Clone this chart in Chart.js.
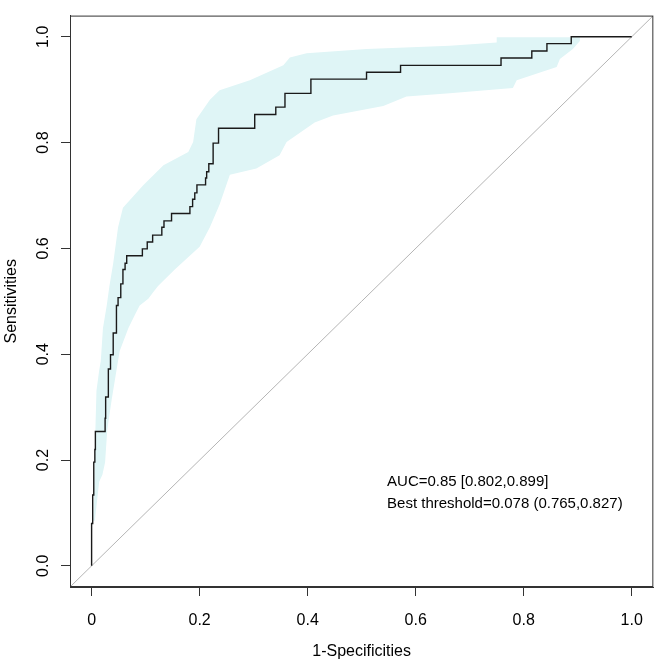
<!DOCTYPE html>
<html>
<head>
<meta charset="utf-8">
<script src="https://cdn.jsdelivr.net/npm/chart.js@4.4.1/dist/chart.umd.min.js"></script>
<style>
  html, body { margin: 0; padding: 0; background: #fff; }
</style>
</head>
<body>
<canvas id="roc" width="658" height="661"></canvas>
<script>
// ROC curve (step points: end of each horizontal run)
const rocFpr  = [0, 0.002, 0.004, 0.006, 0.007, 0.025, 0.026, 0.031, 0.035, 0.04, 0.046, 0.049, 0.054, 0.058, 0.062, 0.065, 0.094, 0.103, 0.113, 0.13, 0.134, 0.148, 0.182, 0.187, 0.191, 0.195, 0.211, 0.213, 0.217, 0.225, 0.235, 0.302, 0.341, 0.358, 0.406, 0.509, 0.572, 0.758, 0.815, 0.843, 0.888, 1.0];
const rocSens = [0, 0.08, 0.134, 0.196, 0.22, 0.254, 0.279, 0.319, 0.372, 0.399, 0.44, 0.492, 0.507, 0.533, 0.56, 0.572, 0.586, 0.599, 0.612, 0.625, 0.64, 0.652, 0.666, 0.679, 0.693, 0.705, 0.72, 0.733, 0.745, 0.76, 0.799, 0.827, 0.853, 0.867, 0.893, 0.92, 0.933, 0.946, 0.96, 0.973, 0.987, 1.0];

// confidence band of sensitivity
const upperFpr  = [0.003, 0.005, 0.007, 0.009, 0.014, 0.017, 0.021, 0.028, 0.033, 0.04, 0.049, 0.058, 0.096, 0.133, 0.179, 0.188, 0.194, 0.219, 0.237, 0.293, 0.355, 0.367, 0.398, 0.509, 0.663, 0.75, 0.75, 0.904];
const upperSens = [0.085, 0.159, 0.257, 0.331, 0.369, 0.387, 0.449, 0.492, 0.529, 0.572, 0.64, 0.677, 0.72, 0.757, 0.782, 0.801, 0.844, 0.881, 0.899, 0.918, 0.946, 0.961, 0.969, 0.977, 0.983, 0.989, 0.999, 0.999];
const lowerFpr  = [0.006, 0.014, 0.02, 0.025, 0.029, 0.037, 0.046, 0.052, 0.068, 0.08, 0.089, 0.105, 0.114, 0.123, 0.154, 0.2, 0.219, 0.237, 0.256, 0.305, 0.348, 0.361, 0.413, 0.447, 0.54, 0.583, 0.663, 0.78, 0.787, 0.861, 0.867, 0.891, 0.904];
const lowerSens = [0.085, 0.159, 0.172, 0.196, 0.257, 0.313, 0.369, 0.406, 0.449, 0.474, 0.492, 0.505, 0.517, 0.529, 0.56, 0.603, 0.64, 0.683, 0.739, 0.751, 0.776, 0.801, 0.838, 0.851, 0.869, 0.887, 0.893, 0.903, 0.918, 0.943, 0.958, 0.977, 0.992];

const xTicks = [0, 0.2, 0.4, 0.6, 0.8, 1.0];
const xTickLabels = ['0', '0.2', '0.4', '0.6', '0.8', '1.0'];
const yTicks = [0, 0.2, 0.4, 0.6, 0.8, 1.0];
const yTickLabels = ['0.0', '0.2', '0.4', '0.6', '0.8', '1.0'];

const aucText = ['AUC=0.85 [0.802,0.899]', 'Best threshold=0.078 (0.765,0.827)'];

const FONT = "'Liberation Sans', Arial, sans-serif";
const INK = '#333333';

const rocPoints = rocFpr.map((x, i) => ({ x: x, y: rocSens[i] }));
const bandPoints = upperFpr.map((x, i) => ({ x: x, y: upperSens[i] }))
  .concat(lowerFpr.map((x, i) => ({ x: x, y: lowerSens[i] })).reverse());

const boxPlugin = {
  id: 'boxAndText',
  afterDraw(chart) {
    const ctx = chart.ctx;
    const a = chart.chartArea;
    const xs = chart.scales.x, ys = chart.scales.y;
    ctx.save();
    ctx.strokeStyle = INK;
    ctx.lineWidth = 1;
    ctx.strokeRect(a.left + 0.5, a.top + 0.5, a.right - a.left - 1, a.bottom - a.top - 1);
    ctx.fillStyle = '#000';
    ctx.font = '15px ' + FONT;
    ctx.textAlign = 'left';
    ctx.textBaseline = 'middle';
    ctx.fillText(aucText[0], xs.getPixelForValue(0.547), ys.getPixelForValue(0.159));
    ctx.fillText(aucText[1], xs.getPixelForValue(0.547), ys.getPixelForValue(0.118));
    ctx.restore();
  }
};

new Chart(document.getElementById('roc'), {
  type: 'scatter',
  data: {
    datasets: [
      {
        data: rocPoints,
        showLine: true,
        stepped: 'after',
        borderColor: '#1a1a1a',
        borderWidth: 1.4,
        pointRadius: 0,
        fill: false,
        order: 0
      },
      {
        data: [{ x: -0.04, y: -0.04 }, { x: 1.04, y: 1.04 }],
        showLine: true,
        borderColor: '#b5b5b5',
        borderWidth: 1,
        pointRadius: 0,
        fill: false,
        order: 1
      },
      {
        data: bandPoints,
        showLine: true,
        borderWidth: 0,
        borderColor: 'rgba(0,0,0,0)',
        backgroundColor: '#dff5f6',
        pointRadius: 0,
        fill: 'shape',
        order: 2
      }
    ]
  },
  options: {
    responsive: false,
    animation: false,
    devicePixelRatio: 1,
    layout: { padding: { top: 4, right: 4, left: 0, bottom: 0 } },
    plugins: {
      legend: { display: false },
      tooltip: { enabled: false }
    },
    scales: {
      x: {
        type: 'linear',
        min: -0.04,
        max: 1.04,
        afterBuildTicks: s => { s.ticks = xTicks.map(v => ({ value: v })); },
        afterFit: s => { s.height = 74; },
        grid: { display: true, drawOnChartArea: false, drawTicks: true, tickLength: 9, color: INK },
        border: { display: true, color: INK },
        ticks: {
          color: '#000',
          font: { family: FONT, size: 16 },
          padding: 15,
          maxRotation: 0,
          callback: (v, i) => xTickLabels[i]
        },
        title: {
          display: true,
          text: '1-Specificities',
          color: '#000',
          font: { family: FONT, size: 16 },
          padding: { top: 1, bottom: 0 }
        }
      },
      y: {
        type: 'linear',
        min: -0.04,
        max: 1.04,
        afterBuildTicks: s => { s.ticks = yTicks.map(v => ({ value: v })); },
        afterFit: s => { s.width = 70; },
        grid: { display: true, drawOnChartArea: false, drawTicks: true, tickLength: 9, color: INK },
        border: { display: true, color: INK },
        ticks: {
          color: '#000',
          font: { family: FONT, size: 16 },
          padding: 6,
          minRotation: 90,
          maxRotation: 90,
          crossAlign: 'center',
          callback: (v, i) => yTickLabels[i]
        },
        title: {
          display: true,
          text: 'Sensitivities',
          color: '#000',
          font: { family: FONT, size: 16 },
          padding: { top: 2, bottom: 0 }
        }
      }
    }
  },
  plugins: [boxPlugin]
});
</script>
</body>
</html>
